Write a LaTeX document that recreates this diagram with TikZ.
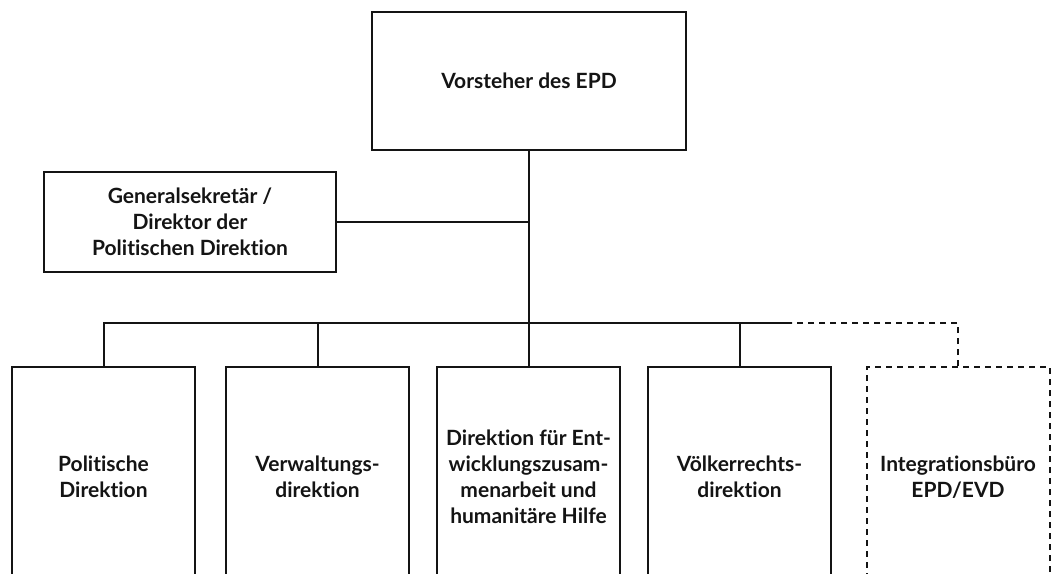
\documentclass[tikz,border=0pt]{standalone}
\usepackage{fontspec}
\setmainfont{Lato}[Ligatures=NoCommon]
\definecolor{primary}{RGB}{20, 20, 20}
\usetikzlibrary{positioning, calc}

\begin{document}
\begin{tikzpicture}[x=1pt, y=-1pt,
		box/.style={rectangle, draw=primary, line width=2pt, inner sep=0pt,
			align=center, font=\fontsize{21}{26}\selectfont\bfseries, text=primary},
		unit/.style={box, minimum width=183pt, minimum height=220pt},
		link/.style={draw=primary, line width=2pt},
		plan/.style={link, dash pattern=on 6pt off 5pt}
		]
		\useasboundingbox (0,0) rectangle (1051,573);
		\clip (0,0) rectangle (1051,573);
		
		% Leitung
		\node[box, minimum width=314pt, minimum height=138pt] (chef) at (529, 81) {Vorsteher des EPD};
		\node[box, minimum width=292pt, minimum height=100pt] (gs) at (190, 222)
		{Generalsekretär /\\Direktor der\\Politischen Direktion};
		
		% Direktionen
		\node[unit] (pd)  at (103.5, 477) {Politische\\Direktion};
		\node[unit] (vd)  at (317.5, 477) {Verwaltungs-\\direktion};
		\node[unit] (deza) at (528.5, 477) {Direktion für Ent-\\wicklungszusam-\\menarbeit und\\humanitäre Hilfe};
		\node[unit] (dv)  at (739.5, 477) {Völkerrechts-\\direktion};
		\node[unit, dash pattern=on 6pt off 5pt] (ib) at (958, 477) {Integrationsbüro\\EPD/EVD};
		
		% Verbindungen
		\coordinate (bus) at (529, 323);
		\coordinate (knick) at (792, 323);
		\draw[link] (chef.south) -- (bus);
		\draw[link] (gs.east) -- (gs.east -| chef.south);
		\foreach \n in {pd, vd, deza, dv}
		\draw[link] (\n.north) |- (bus);
		\draw[link] (dv.north) |- (knick);
		\draw[plan] (ib.north) |- (knick);
	\end{tikzpicture}
\end{document}
